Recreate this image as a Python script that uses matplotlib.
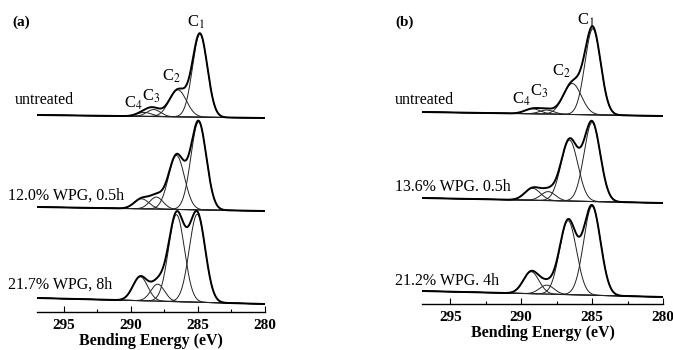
import numpy as np
import matplotlib
matplotlib.use("Agg")
import matplotlib.pyplot as plt
from matplotlib.ticker import MultipleLocator

plt.rcParams['font.family'] = ['Liberation Serif', 'DejaVu Serif']
plt.rcParams['mathtext.fontset'] = 'stix'

# peak centres (eV) for C4, C3, C2, C1
centres_a = [[289.0, 288.3, 286.5, 284.85],
             [289.2, 288.1, 286.6, 284.95],
             [289.3, 288.0, 286.6, 285.05]]
heights_a = [[4, 7, 27, 83],
             [10, 12, 54, 88],
             [24, 17, 87, 88]]
fwhm_a = [[1.3, 1.2, 1.5, 1.3],
          [1.3, 1.2, 1.4, 1.35],
          [1.3, 1.2, 1.4, 1.4]]
# baseline (left at 297 eV, right at 280 eV)
base_a = [[197, 194], [105, 101], [14, 8]]
names_a = ['untreated', '12.0% WPG, 0.5h', '21.7% WPG, 8h']

centres_b = [[289.2, 288.2, 286.4, 284.95],
             [289.2, 288.1, 286.6, 285.0],
             [289.3, 288.2, 286.7, 285.0]]
heights_b = [[5, 4, 31, 86],
             [12, 9, 61, 79],
             [22, 9, 74, 89]]
fwhm_b = [[1.3, 1.2, 1.5, 1.3],
          [1.3, 1.2, 1.4, 1.35],
          [1.3, 1.2, 1.4, 1.4]]
base_b = [[192, 188], [106, 101], [13, 7]]
names_b = ['untreated', '13.6% WPG. 0.5h', '21.2% WPG. 4h']

peak_names = [r'C$_4$', r'C$_3$', r'C$_2$', r'C$_1$']

W, H = 673, 350


def gauss(x, c, h, fw):
    s = fw / 2.3548
    return h * np.exp(-(x - c) ** 2 / (2 * s ** 2))


def draw_panel(ax, centres, heights, fwhms, bases, ytop):
    x = np.linspace(297, 280, 800)
    for cs, hs, fs, (bl, br) in zip(centres, heights, fwhms, bases):
        base = bl + (br - bl) * (297 - x) / 17.0
        total = base.copy()
        for c, h, f in zip(cs, hs, fs):
            comp = gauss(x, c, h, f)
            total += comp
            ax.plot(x, base + comp, color='#222222', lw=0.7)
        ax.plot(x, base, color='#222222', lw=0.8)
        ax.plot(x, total, color='black', lw=1.4)
    ax.set_xlim(297, 280)
    ax.set_ylim(0, ytop)
    for s in ['top', 'left', 'right']:
        ax.spines[s].set_visible(False)
    ax.spines['bottom'].set_linewidth(1.0)
    ax.set_yticks([])
    ax.xaxis.set_major_locator(MultipleLocator(5))
    ax.xaxis.set_minor_locator(MultipleLocator(2.5))
    ax.tick_params(axis='x', which='major', direction='in', length=4, width=0.8,
                   labelsize=11, pad=5)
    ax.tick_params(axis='x', which='minor', direction='in', length=2, width=0.8)
    for lab in ax.get_xticklabels():
        lab.set_fontweight('bold')
    ax.set_xlabel('Bending Energy (eV)', fontsize=11.5, fontweight='bold', labelpad=1)
    ax.patch.set_alpha(0)


def ftext(px, py, s, **kw):
    fig.text(px / W, 1 - py / H, s, **kw)


fig = plt.figure(figsize=(6.73, 3.5), dpi=100)
ax_a = fig.add_axes([37 / W, (H - 312) / H, 228 / W, 312 / H])
ax_b = fig.add_axes([422 / W, (H - 304) / H, 241 / W, 304 / H])

draw_panel(ax_a, centres_a, heights_a, fwhm_a, base_a, 312)
draw_panel(ax_b, centres_b, heights_b, fwhm_b, base_b, 304)

ftext(12, 22, '(a)', fontsize=11, fontweight='bold', va='center')
ftext(395, 22, '(b)', fontsize=11, fontweight='bold', va='center')

for name, (px, py) in zip(names_a, [(15, 100), (8, 196), (8, 285)]):
    ftext(px, py, name, fontsize=11.5, va='center')
for name, (px, py) in zip(names_b, [(395, 100), (395, 187), (395, 281)]):
    ftext(px, py, name, fontsize=11.5, va='center')

for name, (px, py) in zip(peak_names, [(133, 103), (151, 96), (171, 76), (196, 22)]):
    ftext(px, py, name, fontsize=12, ha='center', va='center')
for name, (px, py) in zip(peak_names, [(521, 99), (539, 91), (561, 71), (586, 20)]):
    ftext(px, py, name, fontsize=12, ha='center', va='center')

fig.savefig('out.png', dpi=100)
